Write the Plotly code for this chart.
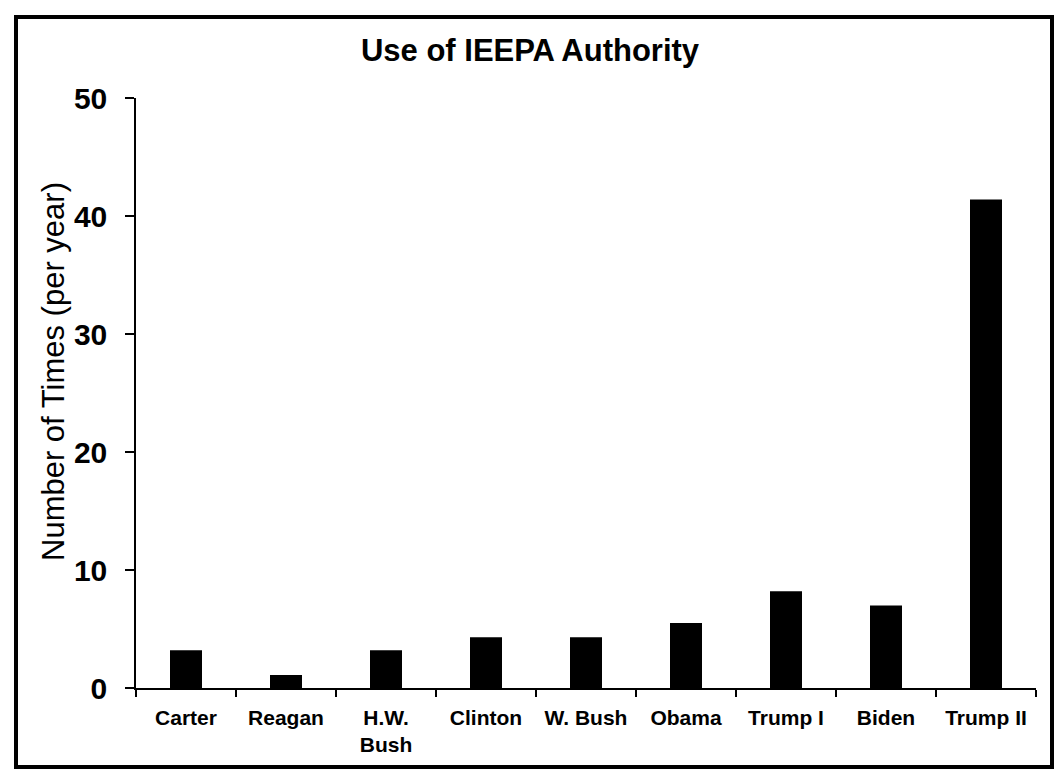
import plotly.graph_objects as go

presidents = ["Carter", "Reagan", "H.W.<br>Bush", "Clinton", "W. Bush", "Obama", "Trump I", "Biden", "Trump II"]
uses_per_year = [3.2, 1.1, 3.2, 4.3, 4.3, 5.5, 8.2, 7.0, 41.4]
y_ticks = [0, 10, 20, 30, 40, 50]

fig = go.Figure(go.Bar(
    x=presidents, y=uses_per_year,
    marker=dict(color="black", line=dict(width=0)),
))

W, H = 1060, 776
L, R, T, B = 136, 24, 98, 88
pw, ph = W - L - R, H - T - B
FONT = "Liberation Sans, Arial, sans-serif"

fig.update_layout(
    width=W, height=H,
    margin=dict(l=L, r=R, t=T, b=B, pad=0),
    paper_bgcolor="white", plot_bgcolor="white",
    bargap=0.68,
    showlegend=False,
    font=dict(family=FONT, color="black"),
    title=dict(text="Use of IEEPA Authority", x=0.5, xref="container", xanchor="center",
               y=1 - 50 / H, yref="container", yanchor="middle",
               font=dict(size=31, color="black", weight="bold")),
    xaxis=dict(
        type="category", tickson="boundaries", ticks="outside", ticklen=7, tickwidth=1.5,
        tickcolor="black", showline=True, linecolor="black", linewidth=1.5,
        showgrid=False, tickfont=dict(size=21, color="black", family=FONT, weight="bold"),
        ticklabelstandoff=10, tickangle=0,
    ),
    yaxis=dict(
        range=[0, 50], tickvals=y_ticks, ticks="outside", ticklen=9, tickwidth=1.5,
        tickcolor="black", showline=True, linecolor="black", linewidth=1.5,
        showgrid=False, zeroline=False, ticklabelstandoff=12,
        tickfont=dict(size=30, color="black", family=FONT, weight="bold"),
    ),
)

# y-axis title as rotated annotation
fig.add_annotation(text="Number of Times (per year)", textangle=-90,
                   xref="paper", yref="paper",
                   x=(53 - L) / pw, y=(H - B - 372) / ph,
                   xanchor="center", yanchor="middle", showarrow=False,
                   font=dict(size=31, color="black", family=FONT))

fig.add_shape(type="rect", xref="paper", yref="paper",
              x0=(16 - L) / pw, x1=(1052 - L) / pw,
              y0=(H - B - 767) / ph, y1=(H - B - 17) / ph,
              line=dict(color="black", width=4), fillcolor="rgba(0,0,0,0)", layer="above")

fig.write_html("out.html", config={"displayModeBar": False},
               post_script="document.body.style.margin='0';document.body.style.overflow='hidden';")
